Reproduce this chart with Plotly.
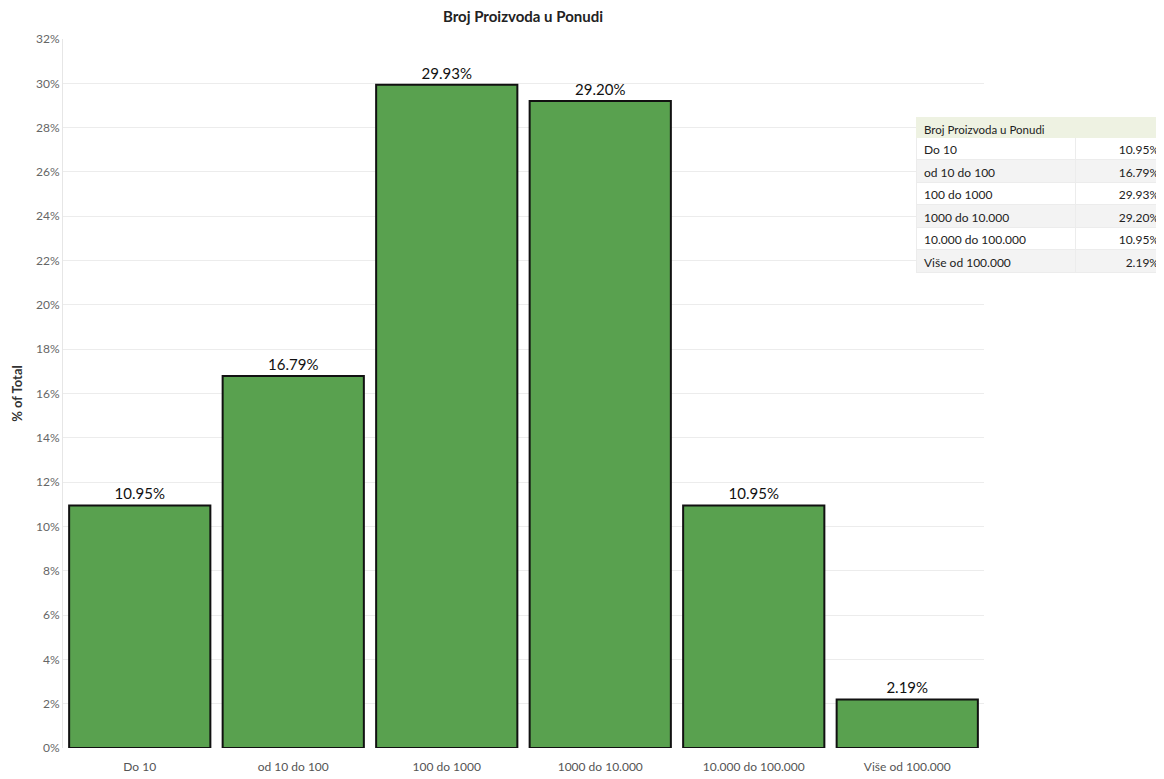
import plotly.graph_objects as go

categories = ["Do 10", "od 10 do 100", "100 do 1000", "1000 do 10.000", "10.000 do 100.000", "Više od 100.000"]
values = [10.95, 16.79, 29.93, 29.20, 10.95, 2.19]
y_ticks = list(range(0, 33, 2))
y_tick_labels = [f"{t}%" for t in y_ticks]
title_text = "Broj Proizvoda u Ponudi"
table_values = ["10.95%", "16.79%", "29.93%", "29.20%", "10.95%", "2.19%"]

# page has an 8px body margin: figure coords = page coords - 8
OFF = 8
W, H = 1164, 779
ml, mr, mt, mb = 63 - OFF, 0, 39 - OFF, H - (748 - OFF)
pw, ph = W - ml - mr, H - mt - mb

fig = go.Figure()
fig.add_trace(go.Bar(
    x=categories, y=values,
    marker=dict(color="#59a14f", line=dict(color="#111111", width=2)),
    width=0.92,
    texttemplate="%{y:.2f}%", textposition="outside",
    textfont=dict(size=15, color="#111111", family="Lato"),
    cliponaxis=False, showlegend=False,
))

row_fill = ["#ffffff" if i % 2 == 0 else "#f3f3f3" for i in range(len(categories))]
fig.add_trace(go.Table(
    domain=dict(x=[(916 - OFF - ml) / pw, 1.0 - 5 / pw],
                y=[1 - (279 - OFF - mt) / ph, 1 - (117 - OFF - mt) / ph]),
    columnwidth=[159, 92],
    header=dict(values=[title_text, ""], fill_color="#eef2e2", line=dict(color="#eef2e2", width=1),
                align=["left", "right"], height=20,
                font=dict(family="Lato", size=11.5, color="#222222")),
    cells=dict(values=[categories, table_values], fill_color=[row_fill, row_fill],
               line=dict(color="#ececec", width=1), align=["left", "right"], height=22.5,
               font=dict(family="Lato", size=12, color="#222222")),
))

fig.update_layout(
    width=W, height=H,
    margin=dict(l=ml, r=mr, t=mt, b=mb),
    plot_bgcolor="white", paper_bgcolor="white",
    font=dict(family="Lato", size=12, color="#555555"),
    title=dict(text=f"<b>{title_text}</b>", x=(523 - OFF) / W, xref="container", xanchor="center",
               y=1 - (17 - OFF) / H, yref="container", yanchor="middle",
               font=dict(size=15, color="#222222", family="Lato")),
    bargap=0.08,
    xaxis=dict(domain=[0, (984 - OFF - ml) / pw], showgrid=False, zeroline=False,
               tickfont=dict(size=12, color="#555555"), ticks="", showline=False,
               ticklabelstandoff=10),
    yaxis=dict(range=[0, 32], tickvals=y_ticks, ticktext=y_tick_labels,
               showgrid=True, gridcolor="#ececec", gridwidth=1, zeroline=False,
               showline=True, linecolor="#e6e6e6", linewidth=1,
               tickfont=dict(size=12, color="#666666"),
               title=dict(text="<b>% of Total</b>", font=dict(size=13, color="#333333"), standoff=10)),
)

fig.write_html("out.html")
